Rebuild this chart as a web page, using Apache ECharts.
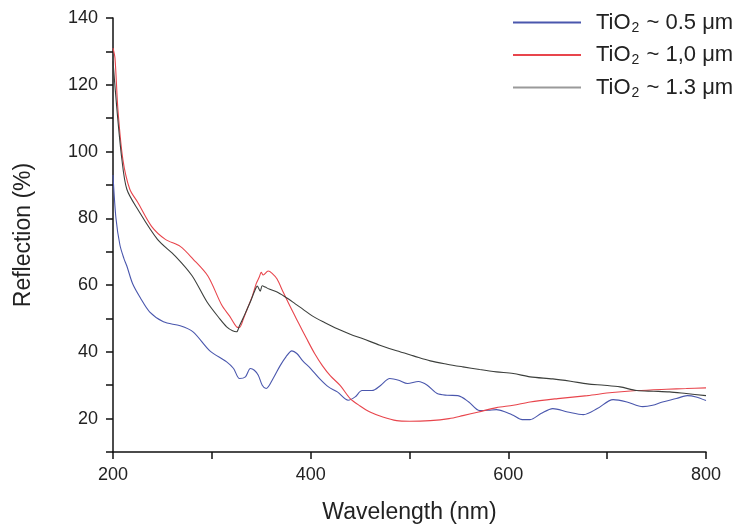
<!DOCTYPE html>
<html><head><meta charset="utf-8">
<script src="https://cdn.jsdelivr.net/npm/echarts@6/dist/echarts.min.js"></script>
<style>html,body{margin:0;padding:0;background:#fff}#c{width:748px;height:529px}</style>
</head><body><div id="c"></div>
<script>
const seriesNames = ['TiO2 ~ 0.5 μm', 'TiO2 ~ 1,0 μm', 'TiO2 ~ 1.3 μm'];
const xTickLabels = [200, 400, 600, 800];
const yTickLabels = [20, 40, 60, 80, 100, 120, 140];

const blueX = [200,203,207,211,214,220,228,237,251,268,281,298,315,322,328,334,339,343,347,351,355,362,369,375,381,386,392,400,409,418,427,438,445,452,462,471,480,489,498,509,518,528,538,549,560,571,580,588,597,605,614,622,633,645,660,676,690,706,720,736,746,756,770,781,790,800];
const blueY = [93,80,72,68,65.7,60.3,56,52,49,47.8,46,40.3,37,35,32,32.5,35,34.5,33,30,29,32,35.8,38.5,40.3,39.5,37.3,35,32,29.5,28,25.5,26.5,28.4,28.4,30,32,31.5,30.5,31.1,30,27.5,27,26.9,25,22.4,22.5,22.7,22,21,19.7,19.7,21.5,23,22,21.2,23,25.7,25,23.6,24,25,26,26.9,26.5,25.4];

const redX = [200,202,205,210,217,225,239,253,268,281,296,310,318,325,328,332,336,341,345,348,350,352,357,361,366,372,379,388,396,404,412,420,430,440,450,460,473,487,500,521,540,554,570,588,605,622,650,680,705,730,760,780,800];
const redY = [131,128,112.5,97.6,88.7,84.8,77.6,73.7,71.6,67.8,62.7,54,50.7,47.5,47.3,49.9,53,56.7,60.5,62.4,63.8,63,64.2,63.5,61.8,58,53.7,48.5,43.9,39.5,35.8,32.8,29.9,26,23.8,22,20.5,19.4,19.2,19.4,20,20.9,22,23.3,24,25,26,26.9,27.8,28.4,28.8,29,29.2];

const blackX = [200,204,209,214,225,245,263,280,295,308,315,321,325,328,333,339,343,346,349,351,354,358,366,374,382,392,402,414,427,440,453,470,487,504,521,538,554,571,588,605,622,645,663,680,697,713,730,747,763,780,800];
const blackY = [127,112.5,97.6,88.7,82.7,73.7,68.7,62.8,55,49.9,47.5,46.3,46,47.8,51,55,58,59.7,58.2,59.8,59.4,58.8,57.9,56.5,54.9,52.8,50.7,48.8,46.9,45.3,43.9,42,40.3,38.8,37.3,36.3,35.5,34.7,34,33.5,32.5,31.9,31.2,30.4,30,29.5,28.4,28.2,28,27.5,26.9];

function pairs(xs, ys){ return xs.map((x,i)=>[x, ys[i]]); }

const colors = ['#4a57ad', '#e8454c', '#3c3f3c'];
const legendColors = ['#4a57ad', '#e8454c', '#9a9a9a'];
const font = 'Liberation Sans, Arial, sans-serif';

const chart = echarts.init(document.getElementById('c'));
const dataSets = [pairs(blueX, blueY), pairs(redX, redY), pairs(blackX, blackY)];

chart.setOption({
  animation: false,
  backgroundColor: '#fff',
  grid: {left: 113, right: 42, top: 18, bottom: 75, containLabel: false},
  legend: {
    orient: 'vertical', left: 508, top: 5,
    itemWidth: 68, itemHeight: 2, itemGap: 7.5,
    icon: 'rect',
    data: seriesNames.map((n,i)=>({name: n, itemStyle: {color: legendColors[i]}})),
    formatter: function(name){
      const p = name.split('2');
      return '{t|' + p[0] + '}{s|2}{t|' + p[1] + '}';
    },
    textStyle: {
      fontFamily: font, fontSize: 22, color: '#222', padding: [0,0,0,10],
      rich: {
        t: {fontFamily: font, fontSize: 22, color: '#222', lineHeight: 26},
        s: {fontFamily: font, fontSize: 14, color: '#222', lineHeight: 26, padding: [11,1,0,1]}
      }
    }
  },
  xAxis: {
    type: 'value', min: 200, max: 800, interval: 100,
    name: 'Wavelength (nm)', nameLocation: 'middle', nameGap: 49,
    nameTextStyle: {fontFamily: font, fontSize: 23, color: '#222'},
    axisLine: {show: true, onZero: false, lineStyle: {color: '#111', width: 1.5}},
    axisTick: {show: true, inside: false, length: 7, lineStyle: {color: '#111', width: 1.5}},
    splitLine: {show: false},
    axisLabel: {fontFamily: font, fontSize: 18, color: '#222', margin: 14,
      formatter: v => xTickLabels.includes(v) ? String(v) : ''}
  },
  yAxis: {
    type: 'value', min: 10, max: 140, interval: 10,
    name: 'Reflection (%)', nameLocation: 'middle', nameGap: 78,
    nameTextStyle: {fontFamily: font, fontSize: 23, color: '#222'},
    axisLine: {show: true, onZero: false, lineStyle: {color: '#111', width: 1.5}},
    axisTick: {show: true, inside: false, length: 7, lineStyle: {color: '#111', width: 1.5}},
    splitLine: {show: false},
    axisLabel: {fontFamily: font, fontSize: 18, color: '#222', margin: 15,
      formatter: v => yTickLabels.includes(v) ? String(v) : ''}
  },
  series: seriesNames.map((n,i)=>({
    name: n, type: 'line', data: dataSets[i], symbol: 'none', smooth: 0.3,
    lineStyle: {color: colors[i], width: 1.1}, itemStyle: {color: colors[i]}
  }))
});
</script>
</body></html>
